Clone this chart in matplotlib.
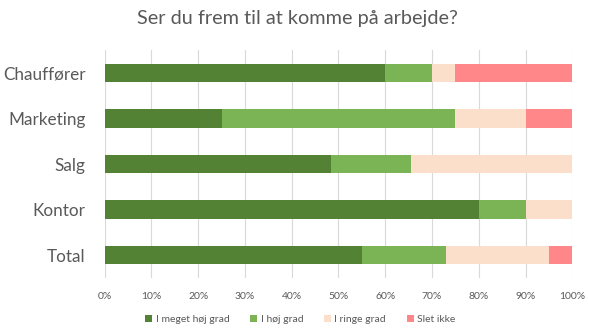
import numpy as np
import matplotlib.pyplot as plt

plt.rcParams['font.family'] = ['Lato', 'DejaVu Sans']

categories = ["Chauffører", "Marketing", "Salg", "Kontor", "Total"]
series_names = ["I meget høj grad", "I høj grad", "I ringe grad", "Slet ikke"]
meget_hoej = [60.0, 25.0, 48.3, 80.0, 55.0]
hoej = [10.0, 50.0, 17.2, 10.0, 18.0]
ringe = [5.0, 15.0, 34.5, 10.0, 22.0]
slet_ikke = [25.0, 10.0, 0.0, 0.0, 5.0]
colors = ["#548235", "#7BB454", "#FCDFCB", "#FF8789"]

fig = plt.figure(figsize=(5.89, 3.28), dpi=100)
ax = fig.add_axes([0.1778, 0.1524, 0.7938, 0.6952])

y = np.arange(len(categories))
left = np.zeros(len(categories))
for name, vals, c in zip(series_names, [meget_hoej, hoej, ringe, slet_ikke], colors):
    vals = np.array(vals)
    ax.barh(y, vals, left=left, height=0.4, color=c, label=name, zorder=3)
    left += vals

ax.set_xlim(0, 100)
ax.set_ylim(len(categories) - 0.5, -0.5)
ax.set_yticks(y)
ax.set_yticklabels(categories, fontsize=12.3, color="#595959")
ax.set_xticks(np.arange(0, 101, 10))
ax.set_xticklabels([f"{v}%" for v in range(0, 101, 10)], fontsize=7.5, color="#595959")
ax.tick_params(axis='both', length=0)
ax.tick_params(axis='x', pad=10)
ax.tick_params(axis='y', pad=14)
ax.grid(axis='x', color="#D9D9D9", linewidth=0.8, zorder=0)
for s in ax.spines.values():
    s.set_visible(False)

fig.text(0.505, 0.945, "Ser du frem til at komme på arbejde?", ha='center', va='center',
         fontsize=14.3, color="#595959")

fig.legend(loc='center', bbox_to_anchor=(0.51, 0.025), ncol=4, frameon=False,
           fontsize=7.5, handlelength=0.7, handleheight=0.7, handletextpad=0.3,
           columnspacing=2.0, labelcolor="#595959")

fig.savefig("out.png", dpi=100)
